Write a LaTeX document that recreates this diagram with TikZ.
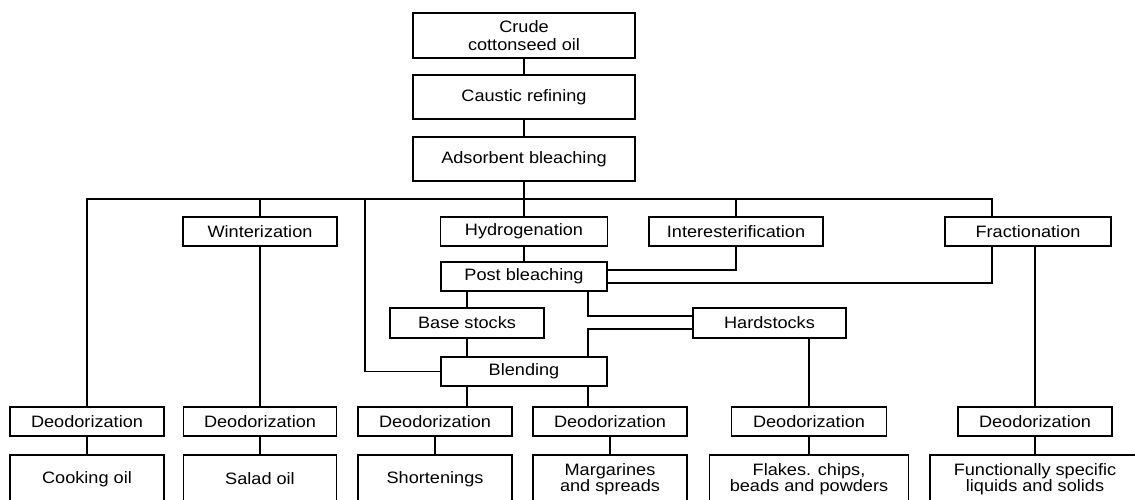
\documentclass[tikz,border=0pt]{standalone}
\usepackage{fontspec}
\setmainfont[FakeStretch=1.1]{Liberation Sans}
\begin{document}
\begin{tikzpicture}[x=1pt,y=-1pt,
  line width=1.8pt,
  box/.style={draw, line width=1.8pt, inner sep=0pt, align=center, font=\fontsize{16.5}{17.5}\selectfont},
  prod/.style={box, font=\fontsize{16.5}{15}\selectfont, minimum height=48pt},
  deo/.style={box, minimum height=29pt},
  proc/.style={box, minimum height=29pt}]
\useasboundingbox (0,0) rectangle (1135,500);
\fill[white] (0,0) rectangle (1135,500);
\clip (0,0) rectangle (1135,500);

% top chain
\node[box, minimum width=222pt, minimum height=45pt] (crude) at (524,35.5) {Crude\\cottonseed oil};
\node[box, minimum width=222pt, minimum height=44pt] (caustic) at (524,97) {Caustic refining};
\node[box, minimum width=222pt, minimum height=44pt] (adsorb) at (524,159) {Adsorbent bleaching};

% process row
\node[proc, minimum width=154pt] (wint) at (260,231.5) {Winterization};
\node[proc, minimum width=167pt] (hydro) at (524,231.5) {Hydrogenation};
\node[proc, minimum width=174pt] (inter) at (736,231.5) {Interesterification};
\node[proc, minimum width=166pt] (frac) at (1028,231.5) {Fractionation};

\node[proc, minimum width=166pt] (pb) at (524,276.5) {Post bleaching};
\node[proc, minimum width=154pt, minimum height=30pt] (base) at (467,323) {Base stocks};
\node[proc, minimum width=153pt, minimum height=30pt] (hard) at (769.5,323) {Hardstocks};
\node[proc, minimum width=166pt] (blend) at (524,371.5) {Blending};

% deodorization row
\node[deo, minimum width=154pt] (d1) at (87,421.5) {Deodorization};
\node[deo, minimum width=153pt] (d2) at (260,421.5) {Deodorization};
\node[deo, minimum width=154pt] (d3) at (435,421.5) {Deodorization};
\node[deo, minimum width=154pt] (d4) at (610,421.5) {Deodorization};
\node[deo, minimum width=155pt] (d5) at (809,421.5) {Deodorization};
\node[deo, minimum width=154pt] (d6) at (1035,421.5) {Deodorization};

% product row
\node[prod, minimum width=154pt] (p1) at (87,479) {Cooking oil};
\node[prod, minimum width=153pt] (p2) at (260,479) {Salad oil};
\node[prod, minimum width=154pt] (p3) at (435,479) {Shortenings};
\node[prod, minimum width=154pt] (p4) at (610,479) {Margarines\\and spreads};
\node[prod, minimum width=199pt] (p5) at (809,479) {Flakes. chips,\\beads and powders};
\node[prod, minimum width=210pt] (p6) at (1035,479) {Functionally specific\\liquids and solids};

% junction coordinates
\coordinate (barL) at (87,199);
\coordinate (barM) at (365,199);
\coordinate (barR) at (992,199);
\coordinate (jx) at (588,0);

% connectors
\draw (crude.south) -- (caustic.north);
\draw (caustic.south) -- (adsorb.north);
\draw (adsorb.south) -- (hydro.north);
\draw (d1.north) |- (barR) -- (barR |- frac.north);
\draw (wint.north) -- (wint.north |- barL);
\draw (inter.north) -- (inter.north |- barL);
\draw (barM) |- (blend.west);
\draw (wint.south) -- (d2.north);
\draw (hydro.south) -- (pb.north);
\draw (inter.south) |- (pb.east |- 0,270);
\draw (barR |- frac.south) |- (pb.east |- 0,283);
\draw (frac.south -| d6.north) -- (d6.north);
\draw (pb.south -| base.north) -- (base.north);
\draw (base.south) -- (base.south |- blend.north);
\draw (pb.south -| jx) |- (hard.west |- 0,316);
\draw (hard.west |- 0,329) -| (blend.north -| jx);
\draw (blend.south -| base.south) -- (d3.north -| base.south);
\draw (blend.south -| jx) -- (d4.north -| jx);
\draw (hard.south -| d5.north) -- (d5.north);

\draw (d1.south) -- (p1.north);
\draw (d2.south) -- (p2.north);
\draw (d3.south) -- (p3.north);
\draw (d4.south) -- (p4.north);
\draw (d5.south) -- (p5.north);
\draw (d6.south) -- (p6.north);
\end{tikzpicture}
\end{document}
